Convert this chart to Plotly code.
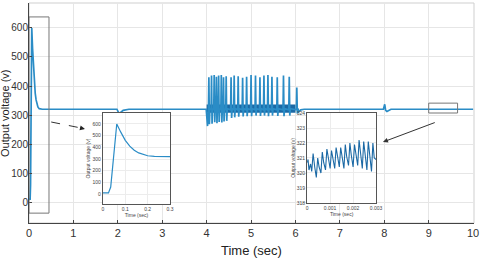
import plotly.graph_objects as go

# ---------------- data ----------------
# start-up transient (s, V)
trans_t = [0, 0.025, 0.035, 0.062, 0.08, 0.10, 0.12, 0.14, 0.16, 0.18, 0.20, 0.23, 0.30]
trans_v = [10, 10, 60, 600, 530, 460, 410, 375, 352, 337, 328, 322, 320]

# small disturbance near t = 2 s
dist2_t = [1.98, 2.03, 2.12, 2.25, 3.99]
dist2_v = [320, 305, 316, 320, 320]

# spiky region 4 - 6 s
spike_t = [4.05, 4.11, 4.17, 4.22, 4.27, 4.33, 4.38, 4.44, 4.55, 4.62, 4.71, 4.81,
           4.90, 5.00, 5.10, 5.20, 5.29, 5.38, 5.47, 5.59, 5.73, 5.86, 6.03]
spike_hi = [430, 436, 438, 432, 436, 438, 430, 434, 430, 436, 434, 428,
            432, 438, 436, 430, 436, 438, 432, 430, 436, 432, 395]
spike_lo = [268, 270, 275, 272, 276, 274, 278, 280, 290, 292, 294, 295,
            296, 296, 298, 297, 298, 296, 298, 297, 296, 298, 305]
band_t = [4.0, 6.0]
band_lo = [308, 308]
band_hi = [336, 336]

# after 6 s, bump near t = 8 s
post_t = [6.08, 6.12, 6.20, 7.98, 8.01, 8.03, 8.06, 8.15, 10.0]
post_v = [312, 318, 320, 320, 337, 316, 312, 320, 320]

# zoomed steady-state ripple (ms, V)
rip_t_ms = [0.00, 0.04, 0.08, 0.15, 0.20, 0.26, 0.33, 0.40, 0.46, 0.52, 0.60, 0.66,
            0.72, 0.80, 0.86, 0.92, 1.00, 1.06, 1.12, 1.20, 1.26, 1.32, 1.40, 1.46,
            1.52, 1.60, 1.66, 1.72, 1.80, 1.86, 1.92, 2.00, 2.06, 2.12, 2.20, 2.26,
            2.32, 2.40, 2.46, 2.52, 2.60, 2.66, 2.72, 2.80, 2.86, 2.92, 3.00]
rip_v = [320.7, 320.9, 320.2, 320.6, 320.1, 321.3, 320.4, 319.7, 321.0, 320.4, 320.0, 321.4,
         320.7, 320.2, 321.6, 320.9, 320.3, 321.5, 320.9, 320.3, 321.7, 321.0, 320.4, 321.7,
         321.0, 320.3, 321.9, 321.1, 320.5, 322.0, 321.2, 320.4, 321.9, 321.2, 320.5, 322.2,
         321.3, 320.3, 322.1, 321.2, 320.2, 322.1, 321.3, 320.1, 322.0, 321.0, 320.9]

x_ticks = [0, 1, 2, 3, 4, 5, 6, 7, 8, 9, 10]
y_ticks = [0, 100, 200, 300, 400, 500, 600]
in1_xticks = [0, 0.1, 0.2, 0.3]
in2_xticks = [0, 0.001, 0.002, 0.003]
in2_xlabels = ["0", "0.001", "0.002", "0.003"]
in2_yticks = [318, 319, 320, 321, 322, 323, 324]

# ---------------- build main series ----------------
main_t = list(trans_t) + list(dist2_t)
main_v = list(trans_v) + list(dist2_v)
spk_t = [4.02]
spk_v = [262]
for t, hi, lo in zip(spike_t, spike_hi, spike_lo):
    spk_t += [t - 0.01, t, t + 0.012, t + 0.024]
    spk_v += [318, hi, lo, 322]
main_t += spk_t + post_t
main_v += spk_v + post_v

FONT = "Liberation Sans Narrow, Arial Narrow, Liberation Sans, Arial, sans-serif"
LINE = "#2a8cc6"
DARK = "#1b69a5"

fig = go.Figure()

fig.add_trace(go.Scatter(x=band_t + band_t[::-1], y=band_hi + band_lo[::-1],
                         fill="toself", fillcolor=DARK, line=dict(width=0),
                         mode="lines", hoverinfo="skip", showlegend=False))
fig.add_trace(go.Scatter(x=main_t, y=main_v, mode="lines",
                         line=dict(color=LINE, width=1.7), showlegend=False))
fig.add_trace(go.Scatter(x=trans_t, y=trans_v, mode="lines", xaxis="x2", yaxis="y2",
                         line=dict(color=LINE, width=1.2), showlegend=False))
fig.add_trace(go.Scatter(x=[t / 1000 for t in rip_t_ms], y=rip_v, mode="lines",
                         xaxis="x3", yaxis="y3",
                         line=dict(color=DARK, width=1.1), showlegend=False))

grid = "#e6e6e6"
axis_common = dict(showgrid=True, gridcolor=grid, gridwidth=1, zeroline=False,
                   automargin=False, showline=True, linecolor="#444",
                   ticks="inside", ticklen=3, tickcolor="#444")

inset_common = dict(showgrid=True, gridcolor="#ececec", zeroline=False, automargin=False,
                    showline=True, mirror=True, linecolor="#555", linewidth=1,
                    ticks="", tickfont=dict(family=FONT, size=5, color="#444"))

fig.update_layout(
    width=480, height=263,
    margin=dict(l=29, r=6, t=3, b=40, autoexpand=False),
    paper_bgcolor="white", plot_bgcolor="white",
    font=dict(family=FONT),
    xaxis=dict(range=[0, 10.02], tickvals=x_ticks,
               tickfont=dict(family=FONT, size=11, color="#333"), **axis_common),
    yaxis=dict(range=[-72, 686], tickvals=y_ticks, ticklabelstandoff=-2,
               tickfont=dict(family=FONT, size=10, color="#333"), **axis_common),
    xaxis2=dict(domain=[0.166, 0.317], anchor="y2", range=[0, 0.3], tickvals=in1_xticks,
                title=dict(text="Time (sec)", font=dict(family=FONT, size=5, color="#444"),
                           standoff=1),
                **inset_common),
    yaxis2=dict(domain=[0.086, 0.5], anchor="x2", range=[-86, 694], tickvals=y_ticks,
                title=dict(text="Output voltage (v)", font=dict(family=FONT, size=5, color="#444"),
                           standoff=1),
                **inset_common),
    xaxis3=dict(domain=[0.625, 0.78], anchor="y3", range=[0, 0.003], tickvals=in2_xticks,
                ticktext=in2_xlabels,
                title=dict(text="Time (sec)", font=dict(family=FONT, size=5, color="#444"),
                           standoff=1),
                **inset_common),
    yaxis3=dict(domain=[0.091, 0.5], anchor="x3", range=[318, 324], tickvals=in2_yticks,
                title=dict(text="Output voltage (v)", font=dict(family=FONT, size=5, color="#444"),
                           standoff=1),
                **inset_common),
)

# main axis titles
fig.add_annotation(text="Output voltage (v)", xref="paper", yref="paper", x=-0.054, y=0.5,
                   xanchor="center", yanchor="middle", textangle=-90, showarrow=False,
                   borderpad=0, font=dict(family=FONT, size=11, color="#222"))
fig.add_annotation(text="Time (sec)", xref="paper", yref="paper", x=0.5, y=-0.123,
                   xanchor="center", yanchor="middle", showarrow=False,
                   font=dict(family=FONT, size=13, color="#222"))

# light frame top/right
fig.add_shape(type="rect", xref="paper", yref="paper", x0=0, x1=1, y0=0, y1=1,
              line=dict(color="#cfcfcf", width=1), layer="below")
# zoom rectangles
fig.add_shape(type="rect", xref="x", yref="y", x0=0, x1=0.45, y0=-38, y1=638,
              line=dict(color="#777", width=1))
fig.add_shape(type="rect", xref="x", yref="y", x0=9.0, x1=9.65, y0=307, y1=341,
              line=dict(color="#777", width=1))
# dashed pointer to inset 1
fig.add_shape(type="line", xref="x", yref="y", x0=0.5, y0=276, x1=1.15, y1=256,
              line=dict(color="#333", width=1, dash="dash"))
fig.add_annotation(x=1.26, y=252, xref="x", yref="y", ax=1.12, ay=257, axref="x", ayref="y",
                   text="", showarrow=True, arrowhead=2, arrowsize=1, arrowwidth=1,
                   arrowcolor="#222")
# solid pointer to inset 2
fig.add_annotation(x=7.97, y=207, xref="x", yref="y", ax=9.17, ay=276, axref="x", ayref="y",
                   text="", showarrow=True, arrowhead=2, arrowsize=1, arrowwidth=1,
                   arrowcolor="#333")

fig.write_html("out.html", config={"displayModeBar": False},
               post_script="document.body.style.margin='0';document.body.style.overflow='hidden';")
